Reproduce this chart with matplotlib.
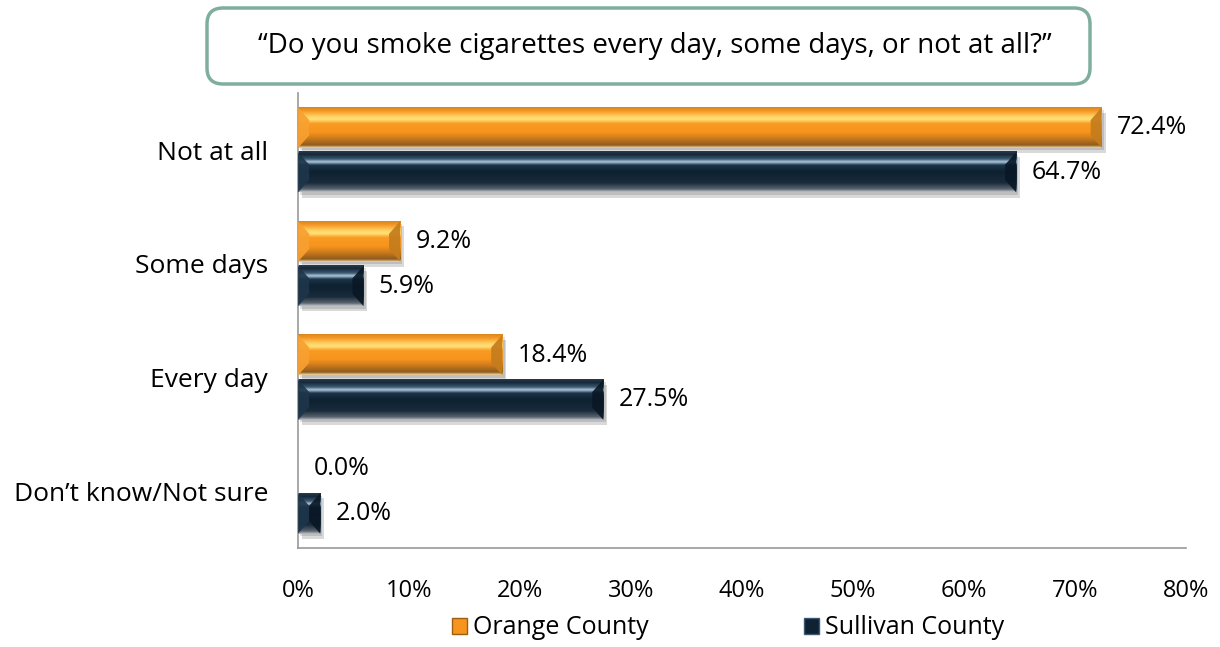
import matplotlib
matplotlib.use("Agg")
import numpy as np
import matplotlib.pyplot as plt
import matplotlib.patches as mpatches
from matplotlib.colors import LinearSegmentedColormap

# data (top to bottom)
categories = ["Not at all", "Some days", "Every day", "Don\u2019t know/Not sure"]
orange_vals = [72.4, 9.2, 18.4, 0.0]
sullivan_vals = [64.7, 5.9, 27.5, 2.0]
series_names = ["Orange County", "Sullivan County"]
x_ticks = [0, 10, 20, 30, 40, 50, 60, 70, 80]

plt.rcParams["font.family"] = ["Open Sans", "DejaVu Sans"]

# vertical shading profiles (bottom -> top)
ORANGE_CMAP = LinearSegmentedColormap.from_list("org", [
    (0.0, "#F3D6A6"), (0.07, "#8E5A1E"), (0.22, "#C7781C"), (0.38, "#F7941D"),
    (0.6, "#F99B22"), (0.7, "#FFE27A"), (0.78, "#FFD060"), (0.9, "#F79A28"), (1.0, "#D9861E")])
NAVY_CMAP = LinearSegmentedColormap.from_list("nav", [
    (0.0, "#BCC3CA"), (0.07, "#5A646E"), (0.22, "#1A2C3C"), (0.5, "#0D2131"),
    (0.66, "#1C3448"), (0.74, "#AFC8DE"), (0.81, "#3A5870"), (0.92, "#15283A"), (1.0, "#2A3A4A")])
ORANGE = dict(cmap=ORANGE_CMAP, left="#F8A030", right="#C47C1C", face="#F7941D", edge="#9C5E12")
NAVY = dict(cmap=NAVY_CMAP, left="#1E354A", right="#0A1826", face="#0E2234", edge="#3C5872")

grad = np.linspace(0, 1, 128).reshape(-1, 1)


def bevel_bar(ax, x0, x1, yc, h, c):
    if x1 - x0 <= 0:
        return
    yb, yt = yc - h / 2, yc + h / 2
    bx = min(1.0, (x1 - x0) / 2)
    by = 0.11
    # drop shadow
    ax.add_patch(mpatches.Rectangle((x0 + 0.35, yb - 0.045), x1 - x0, h,
                                    facecolor="#000000", alpha=0.15, lw=0, zorder=1))
    ax.add_patch(mpatches.Rectangle((x0 + 0.2, yb - 0.022), x1 - x0, h,
                                    facecolor="#000000", alpha=0.12, lw=0, zorder=1))
    ax.imshow(grad, cmap=c["cmap"], extent=(x0, x1, yb, yt), origin="lower",
              aspect="auto", interpolation="bilinear", zorder=2)
    ax.add_patch(mpatches.Polygon([(x0, yb), (x0, yt), (x0 + bx, yt - by), (x0 + bx, yb + by)],
                                  facecolor=c["left"], lw=0, alpha=0.92, zorder=3))
    ax.add_patch(mpatches.Polygon([(x1, yb), (x1, yt), (x1 - bx, yt - by), (x1 - bx, yb + by)],
                                  facecolor=c["right"], lw=0, alpha=0.92, zorder=3))


fig = plt.figure(figsize=(12.2, 6.47), dpi=100)
ax = fig.add_axes([0.2443, 0.153, 0.7279, 0.703])

n = len(categories)
ypos = [n - 1 - i for i in range(n)]
h = 0.355
off = 0.196

for yp, ov, sv in zip(ypos, orange_vals, sullivan_vals):
    bevel_bar(ax, 0, ov, yp + off, h, ORANGE)
    bevel_bar(ax, 0, sv, yp - off, h, NAVY)
    ax.annotate(f"{ov:.1f}%", xy=(ov, yp + off), xytext=(11, 0), textcoords="offset points",
                ha="left", va="center", fontsize=18)
    ax.annotate(f"{sv:.1f}%", xy=(sv, yp - off), xytext=(11, 0), textcoords="offset points",
                ha="left", va="center", fontsize=18)

ax.set_xlim(0, 80)
ax.set_ylim(-0.5, n - 0.5)
ax.set_yticks(ypos)
ax.set_yticklabels(categories, fontsize=19)
ax.set_xticks(x_ticks)
ax.set_xticklabels([f"{t}%" for t in x_ticks], fontsize=17)
ax.tick_params(axis="x", length=0, pad=22)
ax.tick_params(axis="y", length=0, pad=21.5)
for s in ["top", "right"]:
    ax.spines[s].set_visible(False)
for s in ["left", "bottom"]:
    ax.spines[s].set_color("#999999")
    ax.spines[s].set_linewidth(1.2)

# question box
box = mpatches.FancyBboxPatch((207, 647 - 84), 883, 76,
                              boxstyle="round,pad=0,rounding_size=16",
                              facecolor="white", edgecolor="#7FAE9F", linewidth=2.5,
                              transform=None, figure=fig)
fig.patches.append(box)
fig.text(655 / 1220, 1 - 46 / 647, "\u201cDo you smoke cigarettes every day, some days, or not at all?\u201d",
         ha="center", va="center", fontsize=20)

handles = [mpatches.Patch(facecolor=ORANGE["face"], edgecolor=ORANGE["edge"]),
           mpatches.Patch(facecolor=NAVY["face"], edgecolor=NAVY["edge"])]
fig.legend(handles, series_names, loc="center", bbox_to_anchor=(0.597, 1 - 628 / 647),
           ncol=2, frameon=False, fontsize=18, handlelength=0.6, handleheight=0.6,
           handletextpad=0.25, columnspacing=6.2)

fig.savefig("out.png", dpi=100)
